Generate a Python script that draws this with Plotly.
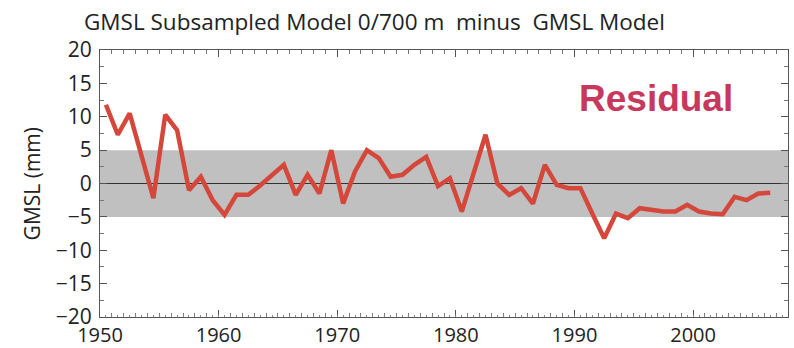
import plotly.graph_objects as go

# Data (annual values plotted at mid-year)
years = list(range(1950, 2007))
residual_mm = [11.8, 7.3, 10.5, 4.0, -2.2, 10.3, 8.0, -1.0, 1.0, -2.5,
               -4.7, -1.7, -1.7, -0.3, 1.2, 2.8, -1.7, 1.3, -1.5, 5.0,
               -3.0, 1.8, 5.0, 3.8, 1.0, 1.3, 2.8, 4.0, -0.4, 0.8,
               -4.2, 1.5, 7.3, 0.0, -1.7, -0.7, -3.0, 2.8, -0.2, -0.7,
               -0.7, -4.5, -8.2, -4.5, -5.2, -3.7, -4.0, -4.2, -4.2, -3.2,
               -4.2, -4.5, -4.6, -2.0, -2.5, -1.5, -1.4]
x_mid = [y + 0.5 for y in years]
band_low, band_high = -5, 5
x_range = [1950, 2008]
y_range = [-20, 20]
x_ticks = [1950, 1960, 1970, 1980, 1990, 2000]
y_ticks = [-20, -15, -10, -5, 0, 5, 10, 15, 20]

fig = go.Figure()
fig.add_trace(go.Scatter(x=x_mid, y=residual_mm, mode="lines",
                         line=dict(color="#d5473a", width=4.5),
                         showlegend=False, hoverinfo="skip"))

# half-year ticks axis overlay
fig.add_trace(go.Scatter(x=[x_range[0]], y=[0], xaxis="x2", mode="markers",
                         marker=dict(opacity=0), showlegend=False, hoverinfo="skip"))

fig.add_shape(type="rect", xref="x", yref="y", x0=x_range[0], x1=x_range[1],
              y0=band_low, y1=band_high, fillcolor="#c0c0c0", line_width=0, layer="below")
fig.add_shape(type="line", xref="x", yref="y", x0=x_range[0], x1=x_range[1],
              y0=0, y1=0, line=dict(color="#333333", width=1), layer="below")

xtickfont = dict(family="Open Sans", size=20, color="#222222")
ytickfont = dict(family="Open Sans", size=21, color="#222222")
fig.update_layout(
    width=794, height=348,
    margin=dict(l=100, r=6, t=50, b=31),
    plot_bgcolor="white", paper_bgcolor="white",
    xaxis=dict(range=x_range, tickvals=x_ticks, ticks="inside", ticklen=7,
               tickcolor="#555", showline=True, linecolor="#555", linewidth=1,
               mirror="ticks", showgrid=False, zeroline=False, tickfont=xtickfont,
               ticklabelstandoff=0, automargin=False,
               minor=dict(dtick=1, tick0=1950, ticks="inside", ticklen=4, tickcolor="#777")),
    xaxis2=dict(range=x_range, overlaying="x", side="bottom", dtick=0.5, tick0=1950,
                ticks="inside", ticklen=2, tickcolor="#888", showticklabels=False,
                showgrid=False, zeroline=False, showline=False, automargin=False),
    yaxis=dict(range=y_range, tickvals=y_ticks, ticks="inside", ticklen=7,
               tickcolor="#555", showline=True, linecolor="#555", linewidth=1,
               mirror="ticks", showgrid=False, zeroline=False, tickfont=ytickfont,
               ticklabelstandoff=3, automargin=False,
               minor=dict(dtick=2.5, ticks="inside", ticklen=4, tickcolor="#777")),
    annotations=[
        dict(text="GMSL Subsampled Model 0/700 m  minus  GMSL Model",
             xref="paper", yref="paper", x=-0.026, y=1.105, xanchor="left", yanchor="middle",
             showarrow=False, font=dict(family="Open Sans", size=22.5, color="#222")),
        dict(text="GMSL (mm)", xref="paper", yref="paper", x=-0.099, y=0.5,
             xanchor="center", yanchor="middle", textangle=-90, showarrow=False,
             font=dict(family="Open Sans", size=21, color="#222")),
        dict(text="<b>Residual</b>", xref="paper", yref="paper", x=0.808, y=0.8165,
             xanchor="center", yanchor="middle", showarrow=False,
             font=dict(family="Liberation Sans", size=37, color="#c8385c")),
    ],
)
fig.write_html("out.html")
